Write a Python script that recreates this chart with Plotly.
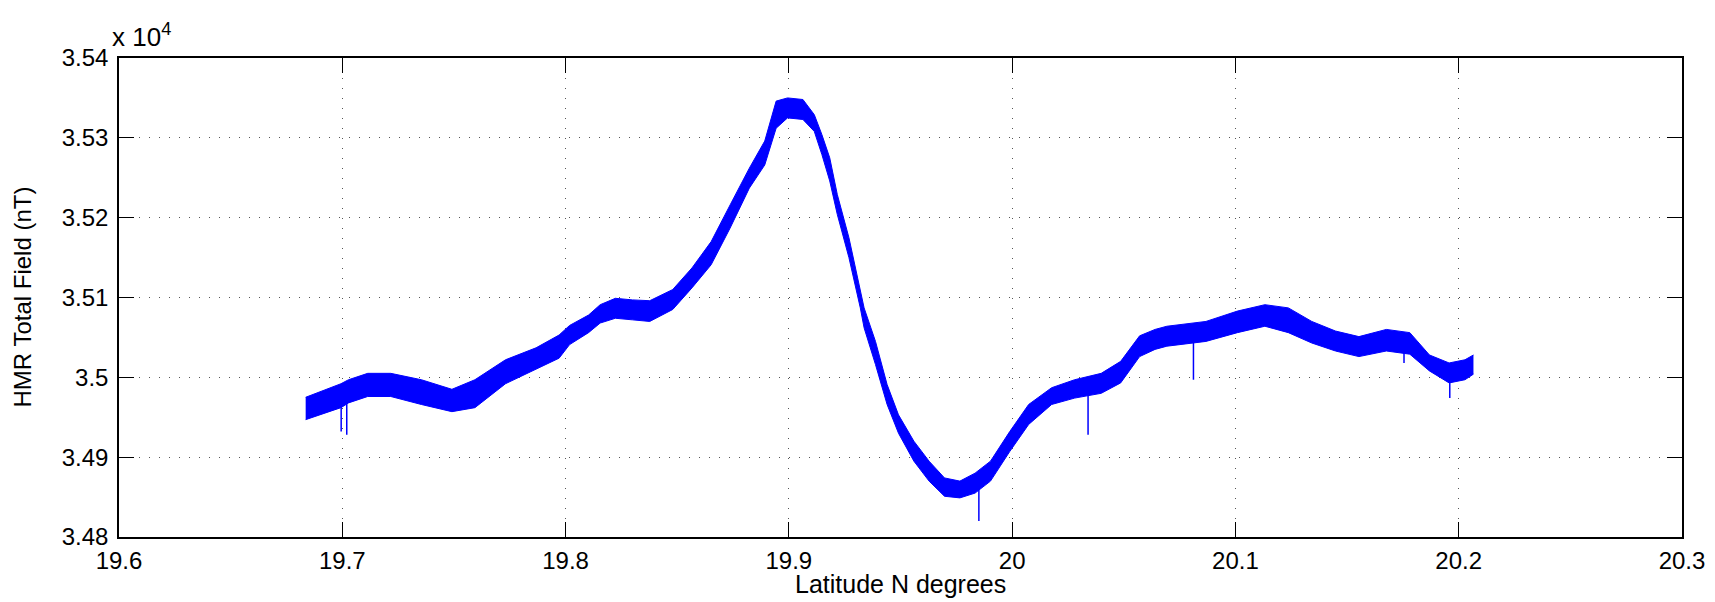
import plotly.graph_objects as go

# Band of the (noisy) total-field record: latitude, upper and lower envelope (nT)
lat = [19.6836, 19.6908, 19.6994, 19.7028, 19.7114, 19.7217, 19.7354, 19.7491,
       19.7594, 19.7731, 19.7868, 19.7971, 19.8018, 19.8103, 19.8155, 19.8223,
       19.8300, 19.8377, 19.8480, 19.8566, 19.8652, 19.8737, 19.8823, 19.8892,
       19.8943, 19.8994, 19.9063, 19.9114, 19.9148, 19.9183, 19.9217, 19.9269,
       19.9320, 19.9337, 19.9388, 19.9440, 19.9491, 19.9560, 19.9628, 19.9697,
       19.9766, 19.9834, 19.9903, 19.9989, 20.0074, 20.0177, 20.0280, 20.0399,
       20.0486, 20.0571, 20.0640, 20.0693, 20.0868, 20.1009, 20.1132, 20.1237,
       20.1342, 20.1448, 20.1553, 20.1676, 20.1781, 20.1869, 20.1957, 20.2028,
       20.2066]
field_upper = [34975, 34983, 34992, 34997, 35005, 35005, 34997, 34985,
               34997, 35022, 35037, 35053, 35065, 35078, 35091, 35099,
               35097, 35096, 35110, 35137, 35170, 35216, 35262, 35296,
               35346, 35350, 35348, 35329, 35304, 35275, 35229, 35175,
               35108, 35087, 35045, 34991, 34953, 34920, 34895, 34874,
               34870, 34880, 34895, 34932, 34966, 34987, 34997, 35005,
               35020, 35052, 35060, 35064, 35070, 35083, 35091, 35087,
               35070, 35058, 35051, 35060, 35056, 35028, 35018, 35022,
               35028]
field_lower = [34947, 34954, 34962, 34968, 34976, 34976, 34966, 34957,
               34962, 34992, 35010, 35024, 35041, 35056, 35068, 35074,
               35072, 35070, 35085, 35112, 35141, 35187, 35237, 35266,
               35312, 35325, 35323, 35308, 35279, 35246, 35204, 35150,
               35087, 35062, 35016, 34966, 34930, 34895, 34870, 34851,
               34849, 34855, 34870, 34907, 34941, 34966, 34974, 34980,
               34993, 35026, 35035, 35039, 35045, 35056, 35064, 35056,
               35043, 35033, 35026, 35033, 35029, 35008, 34993, 34997,
               35004]

# Isolated downward spikes
spike_lat = [19.6995, 19.7020, 19.9851, 20.0340, 20.0812, 20.1755, 20.1960]
spike_top = [34970, 34975, 34860, 34980, 35045, 35035, 35000]
spike_min = [34932, 34928, 34820, 34928, 34997, 35018, 34974]

x_ticks = [19.6, 19.7, 19.8, 19.9, 20.0, 20.1, 20.2, 20.3]
x_labels = ["19.6", "19.7", "19.8", "19.9", "20", "20.1", "20.2", "20.3"]
y_ticks = [34800, 34900, 35000, 35100, 35200, 35300, 35400]
y_labels = ["3.48", "3.49", "3.5", "3.51", "3.52", "3.53", "3.54"]

BLUE = "#0000ff"
FONT = "Liberation Sans, Arial, sans-serif"

fig = go.Figure()
fig.add_trace(go.Scatter(x=lat, y=field_lower, mode="lines",
                         line=dict(color=BLUE, width=1), hoverinfo="skip",
                         showlegend=False))
fig.add_trace(go.Scatter(x=lat, y=field_upper, mode="lines", fill="tonexty",
                         fillcolor=BLUE, line=dict(color=BLUE, width=1),
                         showlegend=False))

sx, sy = [], []
for xv, t, m in zip(spike_lat, spike_top, spike_min):
    sx += [xv, xv, None]
    sy += [t, m, None]
fig.add_trace(go.Scatter(x=sx, y=sy, mode="lines",
                         line=dict(color=BLUE, width=1.5), showlegend=False))

axis_common = dict(
    showline=True, linecolor="black", linewidth=1.5, mirror="ticks",
    ticks="inside", ticklen=15, tickwidth=1, tickcolor="black",
    showgrid=True, gridcolor="#555555", gridwidth=1, griddash="1px,9px",
    zeroline=False, tickfont=dict(family=FONT, size=24, color="black"),
)

fig.update_layout(
    width=1715, height=602,
    margin=dict(l=111, r=41, t=50, b=73),
    plot_bgcolor="white", paper_bgcolor="white",
    font=dict(family=FONT, color="black"),
    xaxis=dict(range=[19.6, 20.3], tickvals=x_ticks, ticktext=x_labels,
               ticklabelstandoff=1, **axis_common),
    yaxis=dict(range=[34800, 35400], tickvals=y_ticks, ticktext=y_labels,
               ticklabelstandoff=4, **axis_common),
    annotations=[
        dict(text="Latitude N degrees", xref="paper", yref="paper",
             x=0.5, y=0, yshift=-31, xanchor="center", yanchor="top",
             showarrow=False, font=dict(family=FONT, size=25, color="black")),
        dict(text="HMR Total Field (nT)", xref="paper", yref="paper",
             x=(14 - 111) / 1563, y=0.5, xanchor="center", yanchor="middle",
             textangle=-90, showarrow=False,
             font=dict(family=FONT, size=24, color="black")),
        dict(text="x 10<sup>4</sup>", xref="paper", yref="paper",
             x=0, y=1, yshift=4, xshift=-9, xanchor="left", yanchor="bottom",
             showarrow=False, font=dict(family=FONT, size=26, color="black")),
    ],
)

fig.write_html("out.html")
